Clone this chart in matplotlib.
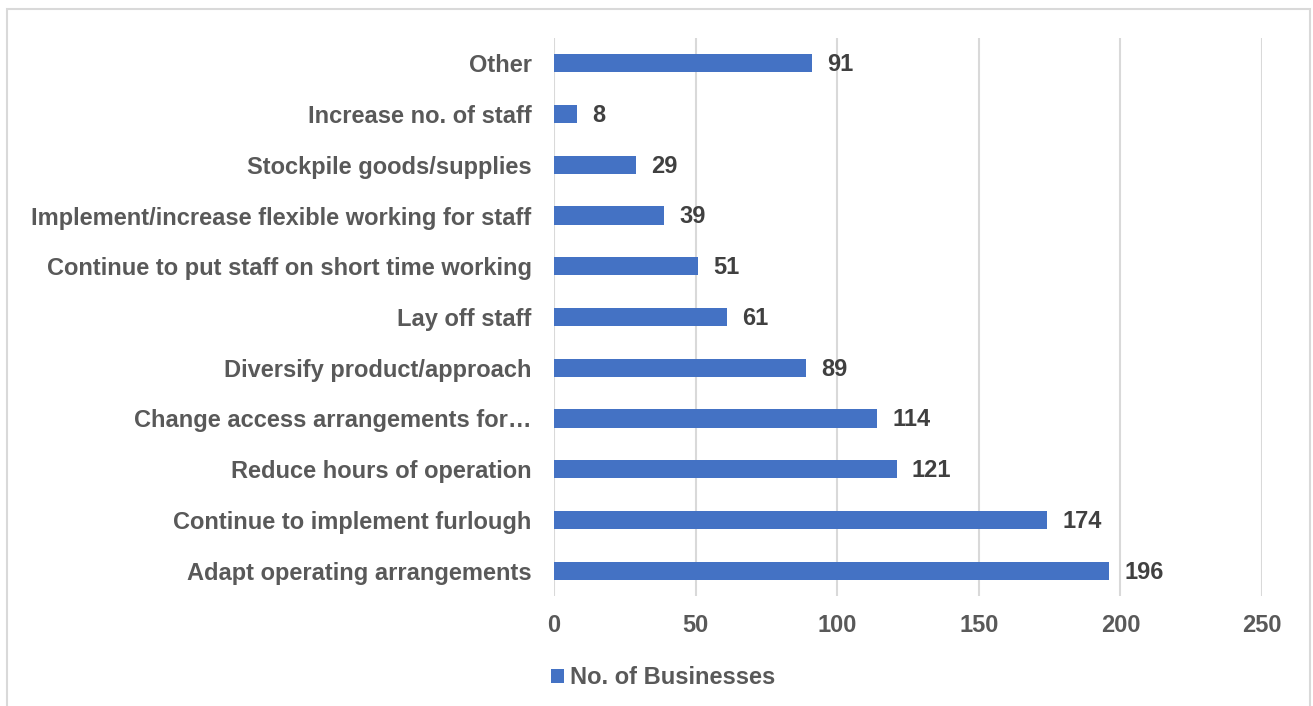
import matplotlib
matplotlib.use('Agg')
import matplotlib.pyplot as plt
from matplotlib.patches import Rectangle, Patch

plt.rcParams['font.family'] = ['Liberation Sans', 'DejaVu Sans']
plt.rcParams['font.weight'] = 'bold'

# 응답 데이터 (아래에서 위 순서)
categories = [
    'Adapt operating arrangements',
    'Continue to implement furlough',
    'Reduce hours of operation',
    'Change access arrangements for\u2026',
    'Diversify product/approach',
    'Lay off staff',
    'Continue to put staff on short time working',
    'Implement/increase flexible working for staff',
    'Stockpile goods/supplies',
    'Increase no. of staff',
    'Other',
]
counts = [196, 174, 121, 114, 89, 61, 51, 39, 29, 8, 91]
x_ticks = [0, 50, 100, 150, 200, 250]
series_name = 'No. of Businesses'

bar_color = '#4472C4'
label_color = '#595959'
value_color = '#404040'
grid_color = '#D9D9D9'
fs = 17

fig = plt.figure(figsize=(13.13, 7.06), dpi=100)
ax = fig.add_axes([0.4219, 0.1558, 0.5393, 0.7904])

y = range(len(categories))
ax.barh(y, counts, height=0.36, color=bar_color, zorder=3)

for yi, v in zip(y, counts):
    ax.annotate(str(v), xy=(v, yi), xytext=(11, -1), textcoords='offset points',
                va='center', ha='left', fontsize=fs, fontweight='bold', color=value_color)

ax.set_yticks(list(y))
ax.set_yticklabels(categories, fontsize=fs, fontweight='bold', color=label_color)
ax.set_xticks(x_ticks)
ax.set_xticklabels([str(t) for t in x_ticks], fontsize=fs, fontweight='bold', color=label_color)
ax.set_xlim(0, 250)
ax.set_ylim(-0.5, len(categories) - 0.5)

ax.tick_params(axis='both', length=0)
ax.tick_params(axis='x', pad=13)
ax.tick_params(axis='y', pad=16)
ax.grid(True, axis='x', color=grid_color, linewidth=1.5, zorder=0)
for s in ax.spines.values():
    s.set_visible(False)

# 범례
handle = Patch(facecolor=bar_color, edgecolor='none')
fig.legend([handle], [series_name], loc='center', bbox_to_anchor=(0.505, 0.04),
           frameon=False, handlelength=0.55, handleheight=0.55,
           handletextpad=0.25, prop={'weight': 'bold', 'size': fs},
           labelcolor=label_color)

# 바깥 테두리
fig.patches.append(Rectangle((7 / 1313, -0.05), 1303 / 1313, 0.05 + 697 / 706,
                             transform=fig.transFigure, fill=False,
                             edgecolor=grid_color, linewidth=1.5))

fig.savefig('out.png', dpi=100)
